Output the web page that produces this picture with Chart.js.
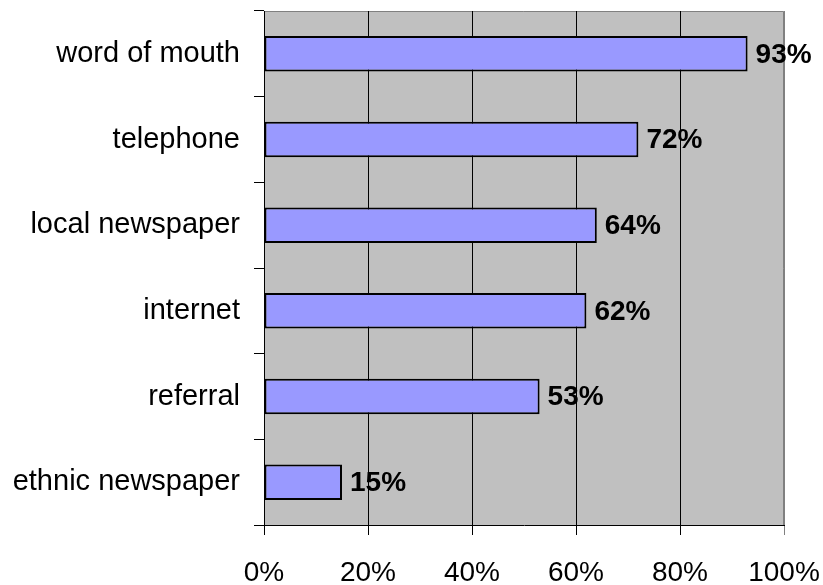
<!DOCTYPE html>
<html>
<head>
<meta charset="utf-8">
<script src="https://cdn.jsdelivr.net/npm/chart.js@4"></script>
<style>
  body { margin: 0; background: #fff; }
  canvas { display: block; }
</style>
</head>
<body>
<canvas id="myChart" width="823" height="585"></canvas>
<script>
// Where people hear about services
const categories = ['word of mouth', 'telephone', 'local newspaper', 'internet', 'referral', 'ethnic newspaper'];
const shares = [93, 72, 64, 62, 53, 15];
const tickValues = [0, 20, 40, 60, 80, 100];

const FONT = "'Liberation Sans', Arial, sans-serif";

// Grey plot background plus the grey top/right frame
const plotFrame = {
    id: 'plotFrame',
    beforeDraw(chart) {
        const { ctx, chartArea: a } = chart;
        ctx.save();
        ctx.fillStyle = '#c0c0c0';
        ctx.fillRect(a.left, a.top, a.right - a.left, a.bottom - a.top);
        ctx.strokeStyle = '#808080';
        ctx.lineWidth = 1;
        ctx.beginPath();
        ctx.moveTo(a.left, a.top + 0.5);
        ctx.lineTo(a.right - 0.5, a.top + 0.5);
        ctx.lineTo(a.right - 0.5, a.bottom);
        ctx.stroke();
        ctx.restore();
    }
};

// Percent labels just past the end of each bar
const valueLabels = {
    id: 'valueLabels',
    afterDatasetsDraw(chart) {
        const { ctx } = chart;
        const meta = chart.getDatasetMeta(0);
        ctx.save();
        ctx.font = `bold 28px ${FONT}`;
        ctx.fillStyle = '#000';
        ctx.textAlign = 'left';
        ctx.textBaseline = 'middle';
        meta.data.forEach((bar, i) => {
            ctx.fillText(shares[i] + '%', bar.x + 8, bar.y + 1);
        });
        ctx.restore();
    }
};

// keep tick labels from pushing the plot area inward
function noMargins(scale) {
    scale.paddingTop = 0;
    scale.paddingBottom = 0;
    scale.paddingLeft = 0;
    scale.paddingRight = 0;
}

const ctx = document.getElementById('myChart').getContext('2d');
new Chart(ctx, {
    type: 'bar',
    data: {
        labels: categories,
        datasets: [{
            data: shares,
            backgroundColor: '#9999ff',
            borderColor: '#000',
            borderWidth: 2,
            borderSkipped: false,
            barPercentage: 0.415,
            categoryPercentage: 1
        }]
    },
    options: {
        indexAxis: 'y',
        responsive: false,
        animation: false,
        layout: { padding: { top: 11, right: 39, left: 0, bottom: 0 } },
        plugins: {
            legend: { display: false },
            tooltip: { enabled: false }
        },
        scales: {
            x: {
                min: 0,
                max: 100,
                afterFit(scale) { scale.height = 60; noMargins(scale); },
                afterBuildTicks(scale) {
                    scale.ticks = tickValues.map(v => ({ value: v }));
                },
                border: { color: '#000', width: 1 },
                grid: {
                    color: ctx => ctx.index === tickValues.length - 1 ? '#808080' : '#000',
                    lineWidth: 1,
                    tickLength: 10
                },
                ticks: {
                    padding: 21,
                    color: '#000',
                    font: { family: FONT, size: 28 },
                    callback: v => v + '%'
                }
            },
            y: {
                afterFit(scale) { scale.width = 264; noMargins(scale); },
                border: { color: '#000', width: 1 },
                grid: {
                    drawOnChartArea: false,
                    color: '#000',
                    tickLength: 10
                },
                ticks: {
                    padding: 14,
                    color: '#000',
                    font: { family: FONT, size: 29 }
                }
            }
        }
    },
    plugins: [plotFrame, valueLabels]
});
</script>
</body>
</html>
